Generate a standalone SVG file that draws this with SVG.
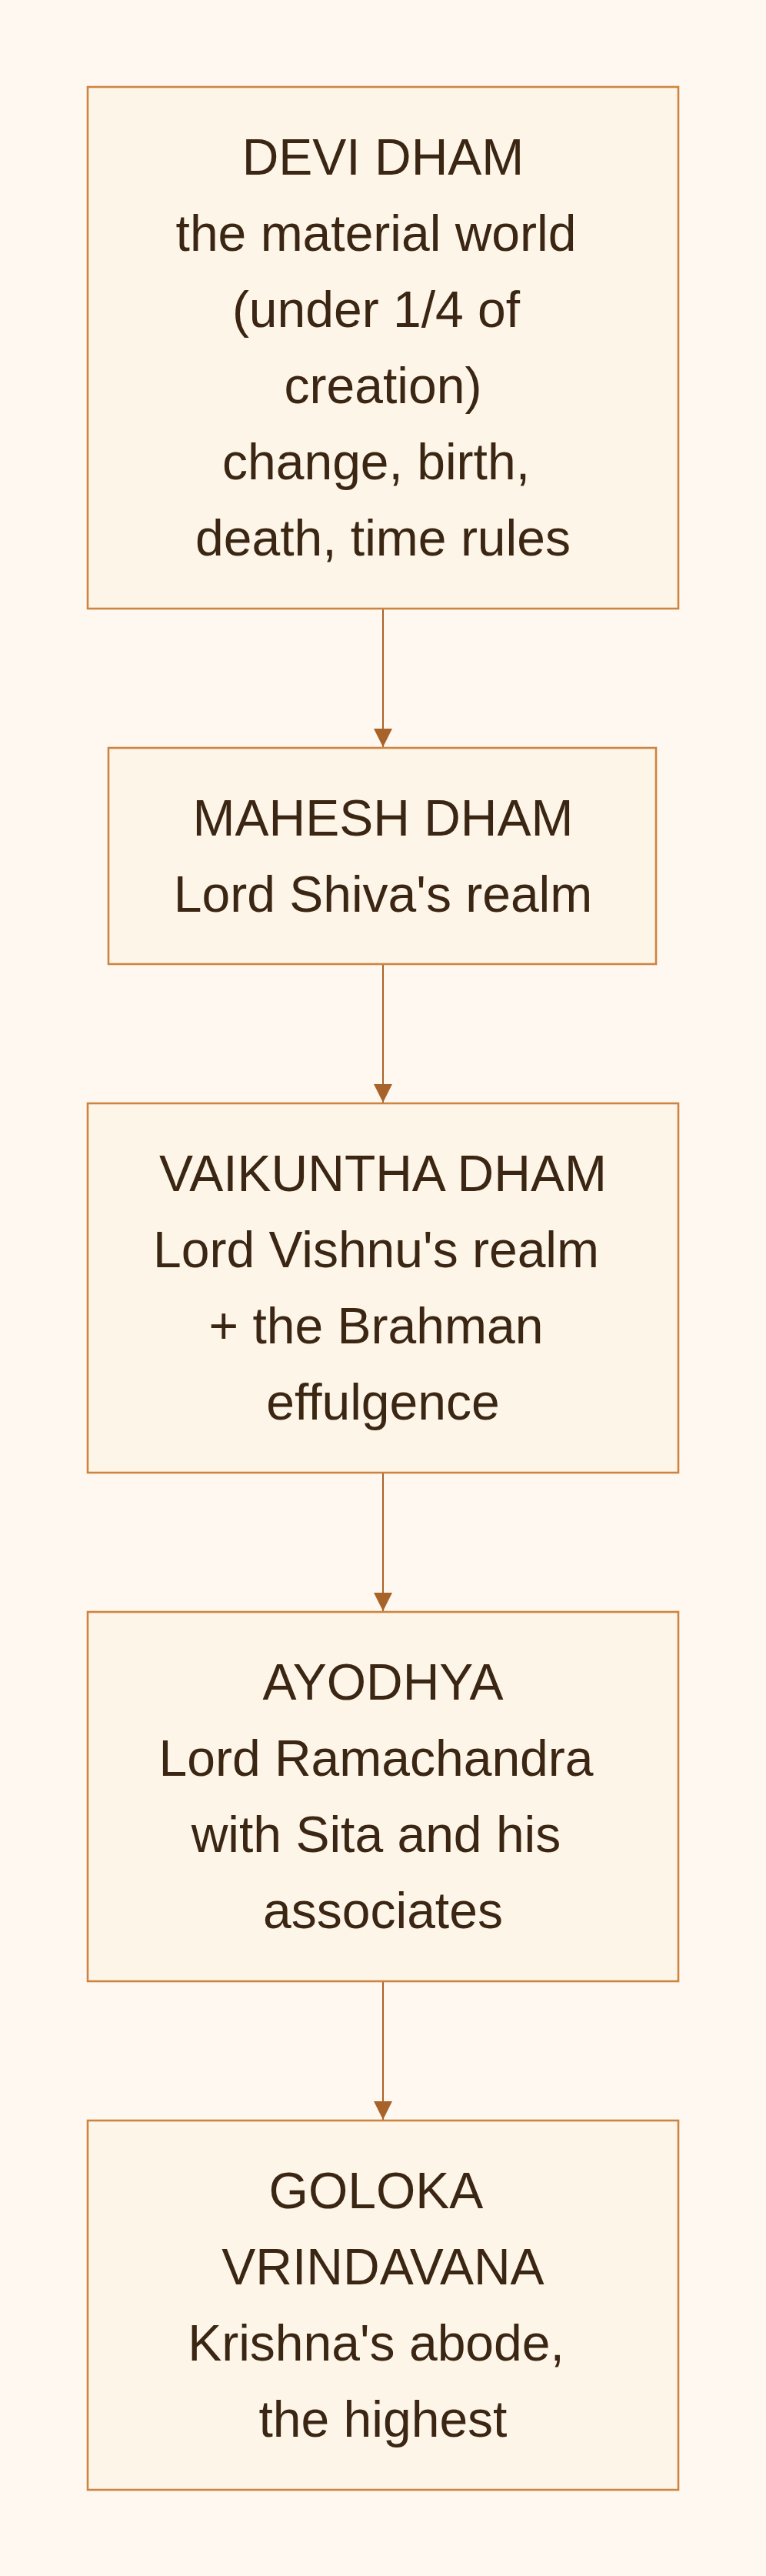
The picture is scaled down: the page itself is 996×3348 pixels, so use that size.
<svg xmlns="http://www.w3.org/2000/svg" width="996" height="3348" viewBox="0 0 996 3348">
<defs>
<style>
.bg{fill:#fef8f1}
.box{fill:#fef5e9;stroke:#cc8440;stroke-width:2.6}
.lbl{font-family:"Liberation Sans",Arial,sans-serif;font-size:66px;fill:#3b2614;text-anchor:middle}
.edge{stroke:#a8632a;stroke-width:2;fill:none}
</style>
<marker id="arr" viewBox="0 0 24 24" refX="24" refY="12" markerWidth="24" markerHeight="24" markerUnits="userSpaceOnUse" orient="auto">
<path d="M0,0 L24,12 L0,24 Z" fill="#a8632a"/>
</marker>
</defs>
<rect class="bg" x="0" y="0" width="996" height="3348"/>
<g id="edges">
<line class="edge" x1="498" y1="791" x2="498" y2="971" marker-end="url(#arr)"/>
<line class="edge" x1="498" y1="1253" x2="498" y2="1433" marker-end="url(#arr)"/>
<line class="edge" x1="498" y1="1914" x2="498" y2="2094" marker-end="url(#arr)"/>
<line class="edge" x1="498" y1="2575" x2="498" y2="2755" marker-end="url(#arr)"/>
</g>
<g id="devi">
<rect class="box" x="114" y="113" width="768" height="678"/>
<text class="lbl"><tspan x="498" y="227">DEVI DHAM</tspan><tspan x="489" y="326">the material world</tspan><tspan x="489" y="425">(under 1/4 of</tspan><tspan x="498" y="524">creation)</tspan><tspan x="489" y="623">change, birth,</tspan><tspan x="498" y="722">death, time rules</tspan></text>
</g>
<g id="mahesh">
<rect class="box" x="141" y="972" width="712" height="281"/>
<text class="lbl"><tspan x="498" y="1086">MAHESH DHAM</tspan><tspan x="498" y="1185">Lord Shiva's realm</tspan></text>
</g>
<g id="vaikuntha">
<rect class="box" x="114" y="1434" width="768" height="480"/>
<text class="lbl"><tspan x="498" y="1548">VAIKUNTHA DHAM</tspan><tspan x="489" y="1647">Lord Vishnu's realm</tspan><tspan x="489" y="1746">+ the Brahman</tspan><tspan x="498" y="1845">effulgence</tspan></text>
</g>
<g id="ayodhya">
<rect class="box" x="114" y="2095" width="768" height="480"/>
<text class="lbl"><tspan x="498" y="2209">AYODHYA</tspan><tspan x="489" y="2308">Lord Ramachandra</tspan><tspan x="489" y="2407">with Sita and his</tspan><tspan x="498" y="2506">associates</tspan></text>
</g>
<g id="goloka">
<rect class="box" x="114" y="2756" width="768" height="480"/>
<text class="lbl"><tspan x="489" y="2870">GOLOKA</tspan><tspan x="498" y="2969">VRINDAVANA</tspan><tspan x="489" y="3068">Krishna's abode,</tspan><tspan x="498" y="3167">the highest</tspan></text>
</g>
</svg>
